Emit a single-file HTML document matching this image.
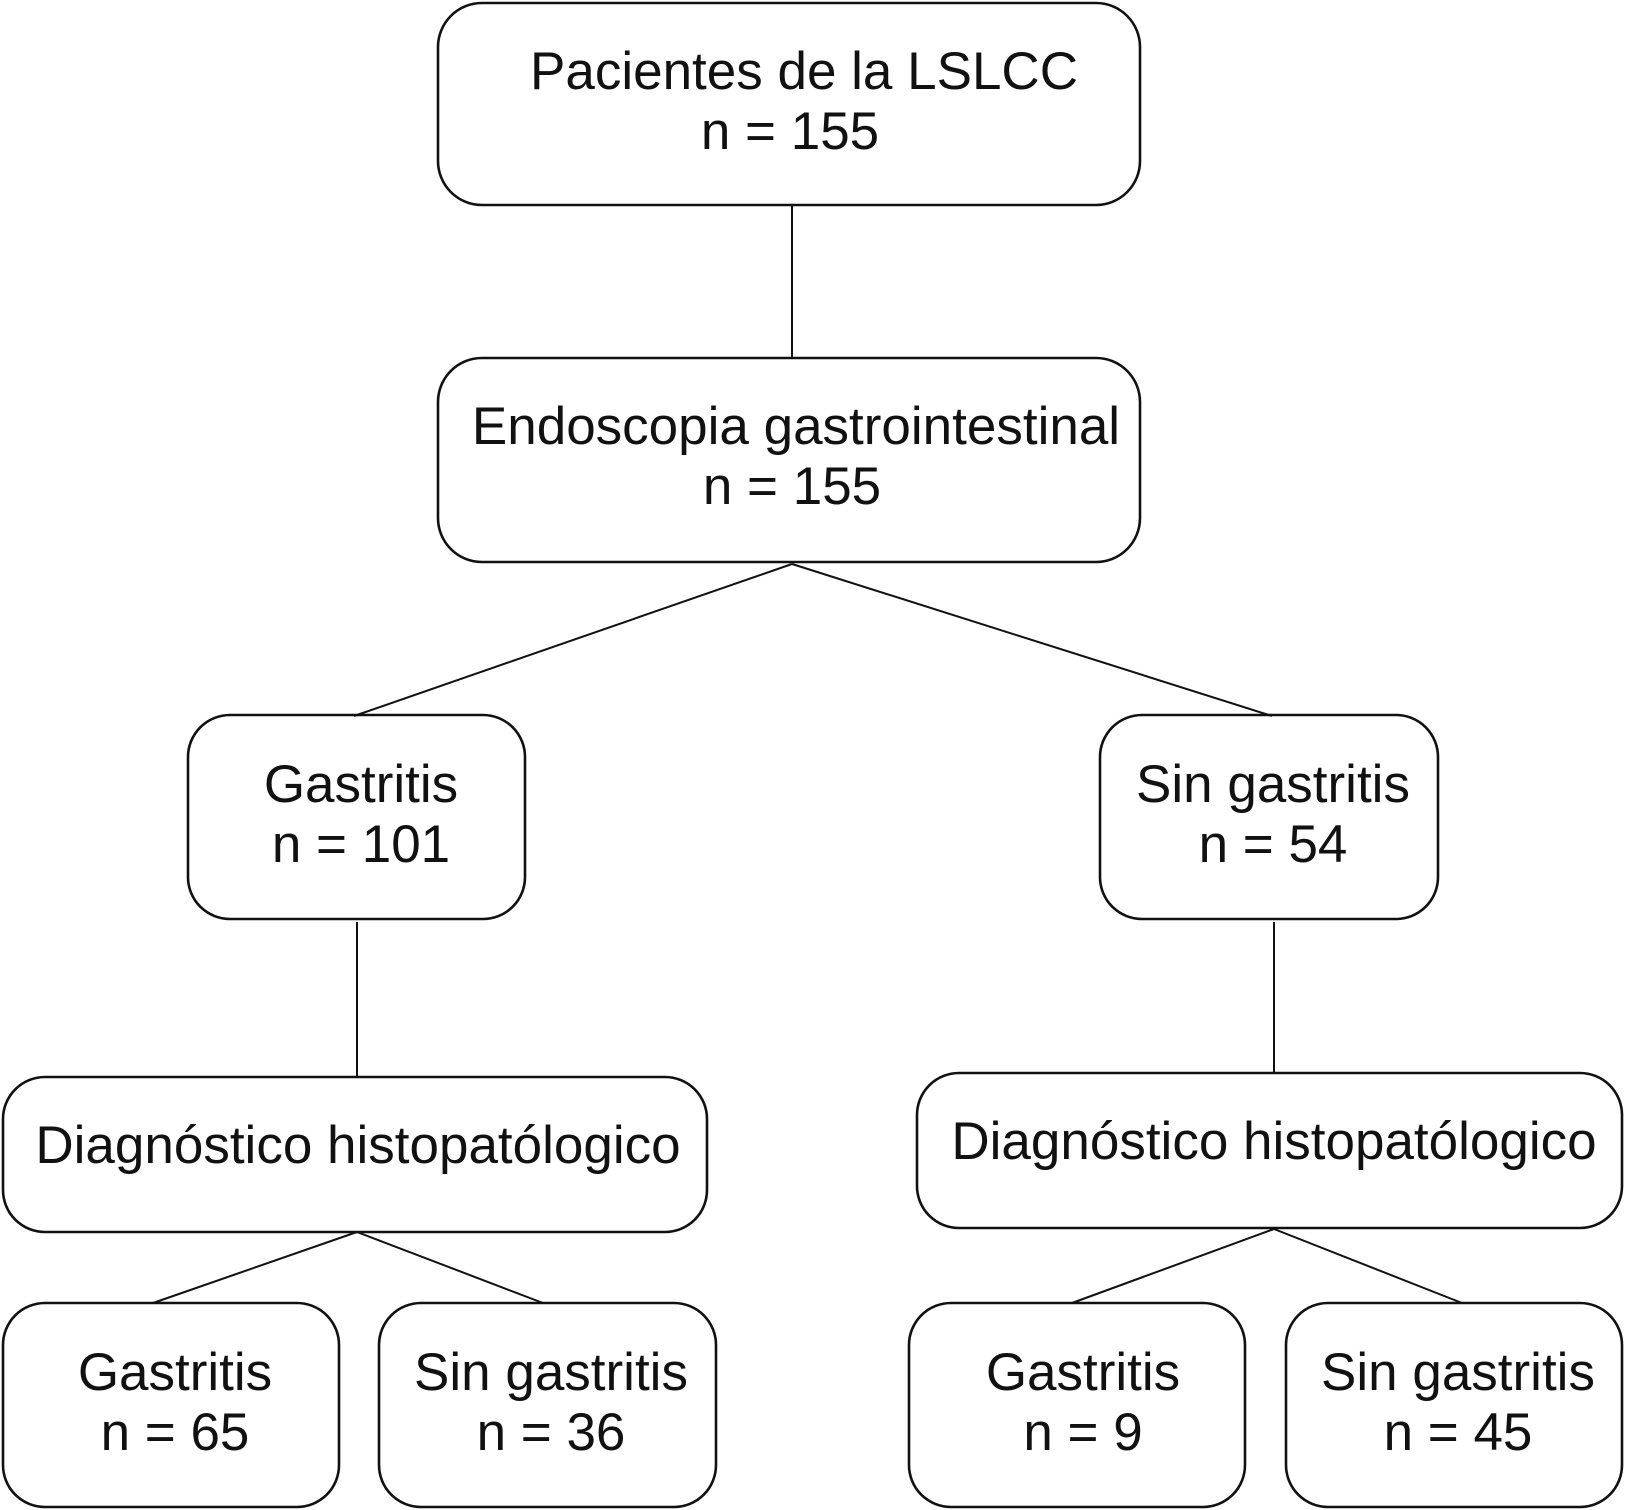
<!DOCTYPE html>
<html><head><meta charset="utf-8"><style>
html,body{margin:0;padding:0;background:#fff;}
svg{display:block;}
text{font-family:"Liberation Sans",Arial,sans-serif;font-size:53px;fill:#111;text-anchor:middle;}
</style></head><body>
<svg width="1625" height="1510" viewBox="0 0 1625 1510" xmlns="http://www.w3.org/2000/svg">
<g fill="#fff" stroke="#111" stroke-width="2.6">
<rect x="438" y="3" width="702" height="202" rx="44"/>
<rect x="438" y="358" width="702" height="204" rx="44"/>
<rect x="188" y="715" width="337" height="204" rx="42"/>
<rect x="1100" y="715" width="338" height="204" rx="42"/>
<rect x="3" y="1077" width="704" height="155" rx="42"/>
<rect x="917" y="1073" width="705" height="155" rx="42"/>
<rect x="3" y="1303" width="336" height="204" rx="42"/>
<rect x="379" y="1303" width="337" height="204" rx="42"/>
<rect x="909" y="1303" width="336" height="204" rx="42"/>
<rect x="1286" y="1303" width="336" height="204" rx="42"/>
</g>
<g stroke="#111" stroke-width="2" fill="none">
<line x1="792" y1="205" x2="792" y2="358"/>
<line x1="792" y1="564" x2="354" y2="716"/>
<line x1="792" y1="564" x2="1272" y2="716"/>
<line x1="357" y1="922" x2="357" y2="1077"/>
<line x1="1274" y1="922" x2="1274" y2="1073"/>
<line x1="357" y1="1232" x2="153" y2="1303"/>
<line x1="357" y1="1232" x2="543" y2="1303"/>
<line x1="1274" y1="1229" x2="1072" y2="1303"/>
<line x1="1274" y1="1229" x2="1462" y2="1303"/>
</g>
<text x="804" y="89">Pacientes de la LSLCC</text>
<text x="790" y="149">n = 155</text>
<text x="796" y="444">Endoscopia gastrointestinal</text>
<text x="792" y="504">n = 155</text>
<text x="361" y="802">Gastritis</text>
<text x="361" y="862">n = 101</text>
<text x="1273" y="802">Sin gastritis</text>
<text x="1273" y="862">n = 54</text>
<text x="358" y="1163">Diagnóstico histopatólogico</text>
<text x="1274" y="1159">Diagnóstico histopatólogico</text>
<text x="175" y="1390">Gastritis</text>
<text x="175" y="1450">n = 65</text>
<text x="551" y="1390">Sin gastritis</text>
<text x="551" y="1450">n = 36</text>
<text x="1083" y="1390">Gastritis</text>
<text x="1083" y="1450">n = 9</text>
<text x="1458" y="1390">Sin gastritis</text>
<text x="1458" y="1450">n = 45</text>
</svg>
</body></html>
